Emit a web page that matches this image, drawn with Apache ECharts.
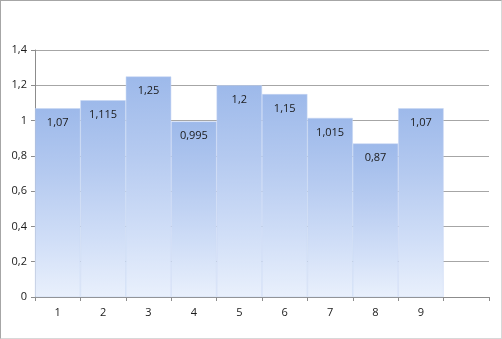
<!DOCTYPE html>
<html><head><meta charset="utf-8">
<script src="https://cdn.jsdelivr.net/npm/echarts@6/dist/echarts.min.js"></script>
<style>
html,body{margin:0;padding:0;background:#fff;}
#c{width:502px;height:339px;box-sizing:border-box;border:1px solid #a6a6a6;border-right-color:#d8d8d8;border-bottom-color:#d8d8d8;}
</style></head>
<body><div id="c"></div>
<script>
const categories = ['1','2','3','4','5','6','7','8','9',''];
const values = [1.07, 1.115, 1.25, 0.995, 1.2, 1.15, 1.015, 0.87, 1.07, null];
const yTicks = {min:0, max:1.4, interval:0.2};

const fmt = v => String(+v.toFixed(3)).replace('.', ',');
const chart = echarts.init(document.getElementById('c'));
chart.setOption({
  animation:false,
  grid:{left:34, right:12, top:49, bottom:41},
  xAxis:{type:'category', data:categories, boundaryGap:true,
    axisLine:{lineStyle:{color:'#8c8c8c'}},
    axisTick:{show:true, alignWithLabel:false, length:4, lineStyle:{color:'#8c8c8c'}},
    axisLabel:{color:'#1a1a1a', fontFamily:'Open Sans', fontSize:11, margin:10}},
  yAxis:{type:'value', min:yTicks.min, max:yTicks.max, interval:yTicks.interval,
    axisLine:{show:true, lineStyle:{color:'#8c8c8c'}},
    axisTick:{show:true, inside:false, length:4, lineStyle:{color:'#8c8c8c'}},
    splitLine:{lineStyle:{color:'#a6a6a6'}},
    axisLabel:{color:'#1a1a1a', fontFamily:'Open Sans', fontSize:11, margin:8, formatter:fmt}},
  series:[{type:'bar', data:values, barCategoryGap:'0%',
    itemStyle:{color:new echarts.graphic.LinearGradient(0,0,0,1,[
      {offset:0,color:'#9db9ea'},{offset:0.35,color:'#b5caf0'},{offset:0.7,color:'#d0def7'},{offset:1,color:'#e9f0fc'}]),
      borderColor:'#c4d5f3', borderWidth:0.5},
    label:{show:true, position:'insideTop', distance:9, color:'#1a1a1a',
      fontFamily:'Open Sans', fontSize:11, formatter:p=>fmt(p.value)}}]
});
</script></body></html>
